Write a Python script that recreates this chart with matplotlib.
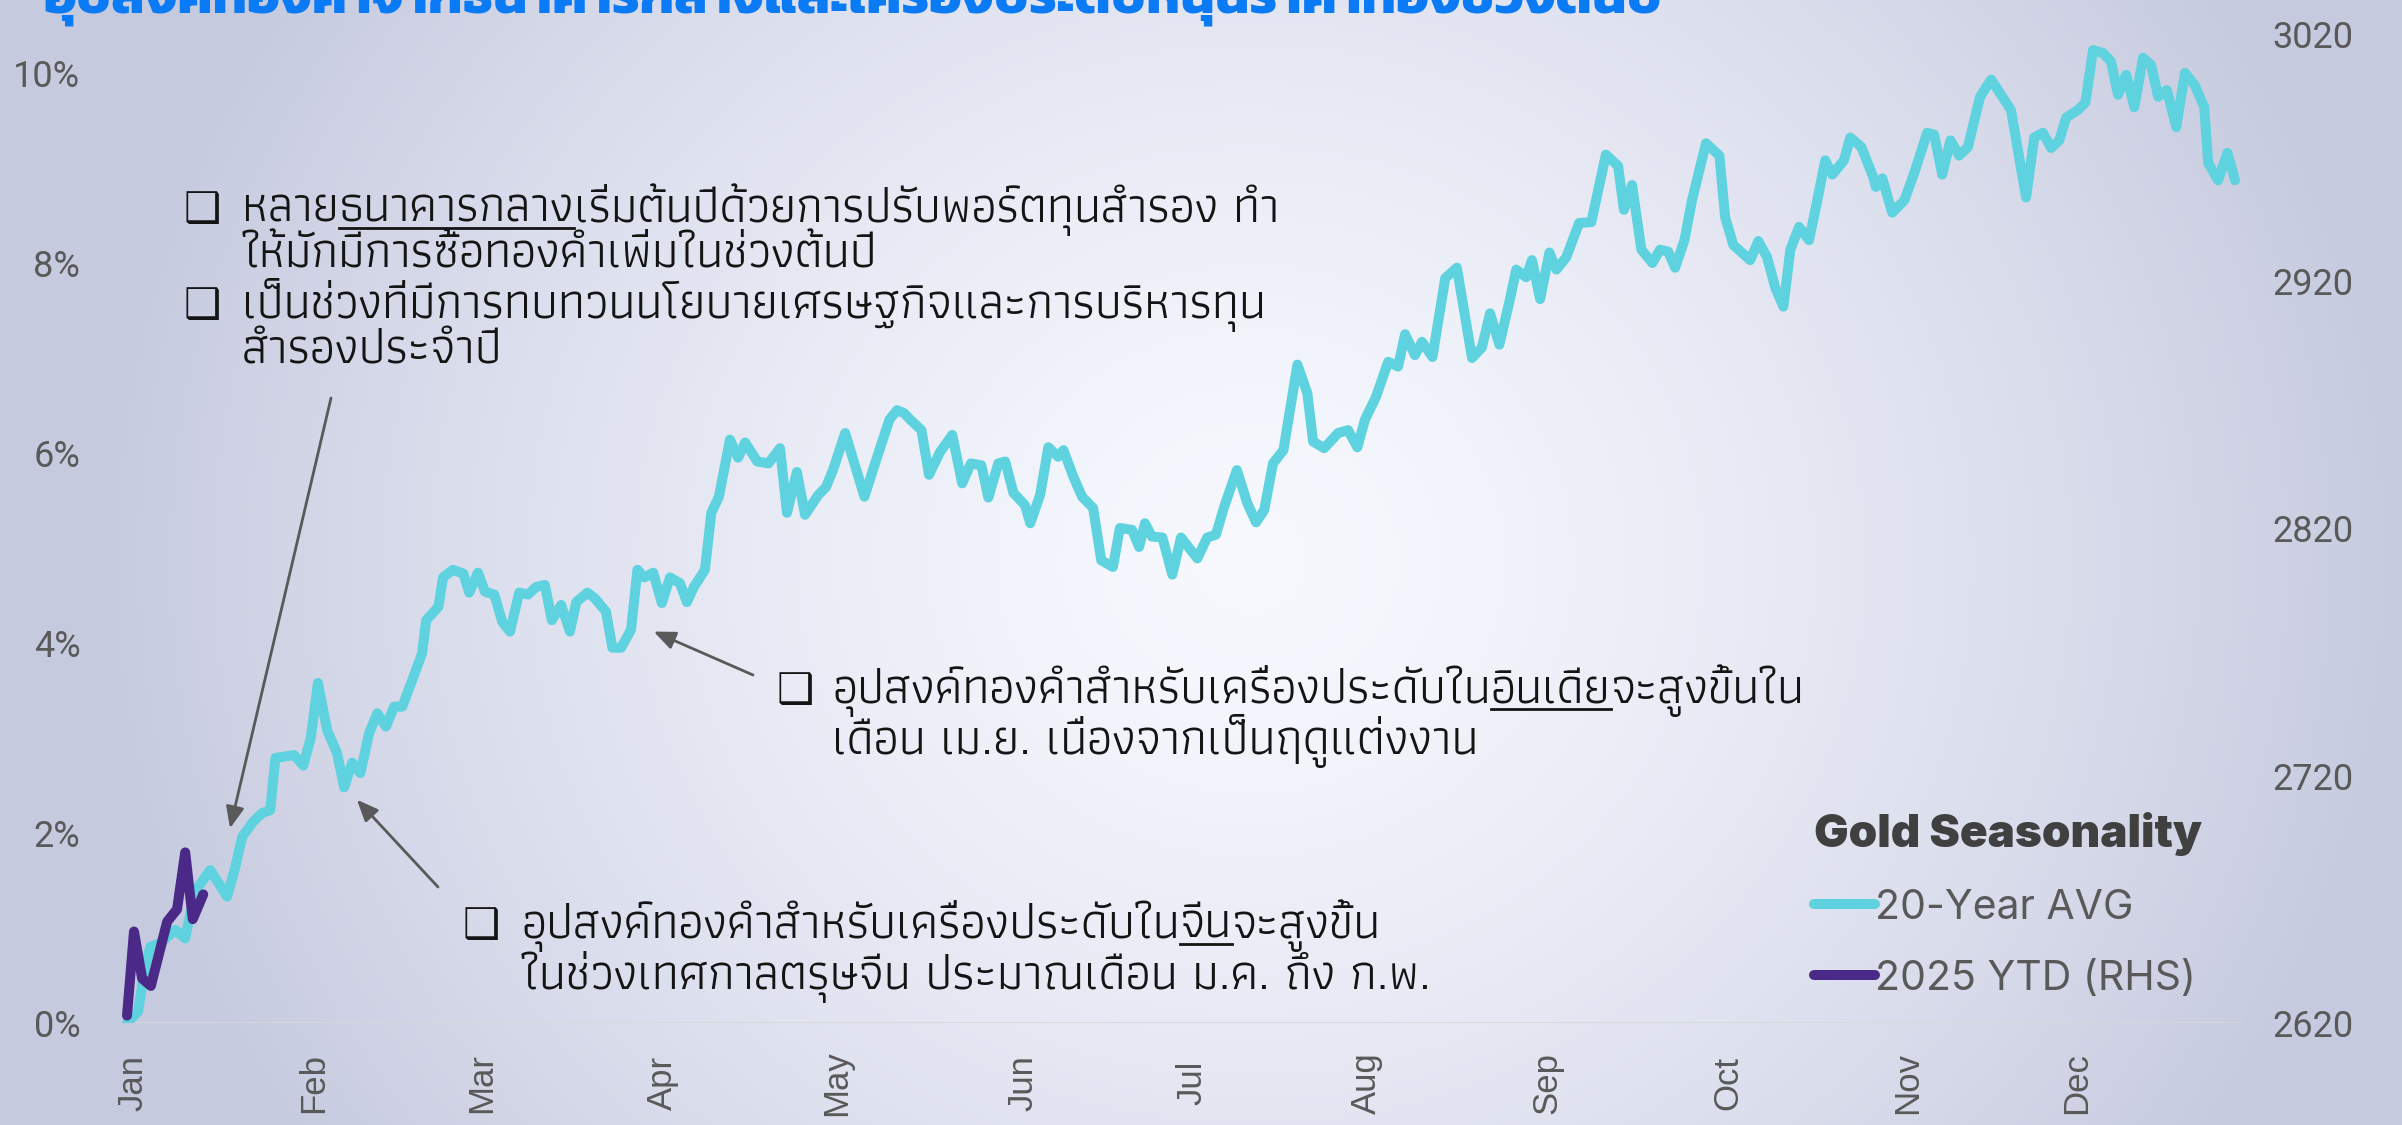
import numpy as np
import matplotlib
matplotlib.use("Agg")
import matplotlib.pyplot as plt
from matplotlib.lines import Line2D

# ---------------------------------------------------------------------
# Figure size in pixels and the fonts used
# ---------------------------------------------------------------------

W, H = 2402, 1125
thai_font = ["Athiti", "DejaVu Sans"]
title_font = ["Kanit", "Athiti", "DejaVu Sans"]
tick_font = ["Roboto", "DejaVu Sans"]
legend_font = ["Inter", "DejaVu Sans"]

cyan = "#5fd2df"
purple = "#4a2988"
grey = "#595959"

# ---------------------------------------------------------------------
# Data: 20-year average seasonal path (% gain since 1 Jan, left axis)
# and the 2025 year-to-date gold price (right axis), x = day of year
# ---------------------------------------------------------------------

avg_day = [0.0, 1.9, 3.1, 4.0, 5.7, 8.3, 10.0, 10.9, 12.2, 14.3,
           17.2, 18.6, 19.8, 21.7, 23.2, 24.6, 25.5, 28.7, 30.3, 31.6,
           32.8, 34.4, 36.1, 37.3, 38.7, 40.1, 41.6, 43.0, 44.5, 45.9,
           47.3, 49.2, 50.7, 51.4, 53.5, 54.3, 56.0, 57.8, 58.8, 60.3,
           61.5, 63.1, 64.5, 65.8, 67.4, 68.9, 70.3, 71.8, 73.0, 74.6,
           76.1, 77.2, 79.1, 80.4, 82.3, 83.4, 84.9, 86.6, 87.7, 88.9,
           90.4, 91.9, 93.3, 95.0, 96.2, 97.4, 99.3, 100.4, 101.7, 103.6,
           105.0, 106.2, 108.3, 110.2, 112.2, 113.4, 115.1, 116.5, 118.8, 120.1,
           121.3, 123.4, 126.7, 128.9, 131.0, 132.3, 133.5, 134.6, 136.5, 137.8,
           139.7, 141.8, 143.5, 145.0, 146.8, 148.0, 149.7, 150.9, 152.3, 154.3,
           155.2, 156.9, 158.3, 160.0, 160.9, 162.6, 164.1, 166.0, 167.4, 169.4,
           170.6, 172.7, 173.9, 174.9, 176.1, 177.9, 179.6, 181.1, 183.9, 185.6,
           187.1, 188.5, 190.7, 192.5, 194.0, 195.4, 196.9, 198.7, 201.1, 202.8,
           203.8, 205.7, 208.1, 209.8, 211.4, 212.7, 214.6, 216.7, 218.4, 219.6,
           221.3, 222.5, 224.3, 226.5, 228.5, 231.1, 232.8, 234.2, 235.8, 237.7,
           238.7, 240.4, 241.4, 242.8, 244.4, 245.6, 247.3, 249.5, 251.6, 254.1,
           256.2, 257.2, 258.6, 260.2, 262.1, 263.4, 264.8, 266.0, 267.6, 268.9,
           271.3, 273.6, 274.6, 276.0, 278.9, 280.3, 281.8, 283.2, 284.6, 285.8,
           287.3, 289.0, 290.1, 291.8, 293.0, 295.0, 296.1, 298.0, 300.0, 300.5,
           301.6, 303.3, 305.4, 307.1, 309.3, 310.5, 311.9, 313.3, 314.8, 316.3,
           318.4, 320.3, 322.0, 323.7, 326.3, 327.7, 329.2, 330.6, 332.0, 333.2,
           335.2, 336.5, 337.8, 339.5, 340.9, 342.1, 343.5, 344.9, 346.4, 347.8,
           349.0, 350.5, 352.1, 353.6, 355.3, 356.9, 357.6, 359.3, 360.9, 362.2]

avg_pct = [0.00, 0.12, 0.59, 0.80, 0.84, 0.98, 0.89, 1.16, 1.43, 1.61,
           1.33, 1.64, 1.96, 2.12, 2.21, 2.24, 2.79, 2.82, 2.71, 3.01,
           3.58, 3.08, 2.84, 2.48, 2.74, 2.63, 3.05, 3.26, 3.12, 3.33,
           3.33, 3.64, 3.89, 4.24, 4.38, 4.69, 4.77, 4.73, 4.53, 4.74,
           4.54, 4.51, 4.22, 4.12, 4.53, 4.51, 4.59, 4.61, 4.24, 4.40,
           4.12, 4.43, 4.53, 4.47, 4.33, 3.95, 3.95, 4.14, 4.77, 4.69,
           4.74, 4.42, 4.69, 4.63, 4.43, 4.59, 4.77, 5.37, 5.54, 6.14,
           5.95, 6.11, 5.91, 5.89, 6.05, 5.37, 5.80, 5.35, 5.56, 5.64,
           5.82, 6.21, 5.54, 5.96, 6.35, 6.45, 6.42, 6.35, 6.24, 5.77,
           6.01, 6.19, 5.68, 5.89, 5.87, 5.53, 5.89, 5.91, 5.58, 5.45,
           5.26, 5.56, 6.06, 5.96, 6.03, 5.75, 5.54, 5.42, 4.87, 4.80,
           5.21, 5.19, 5.01, 5.26, 5.12, 5.11, 4.72, 5.11, 4.89, 5.11,
           5.14, 5.43, 5.82, 5.47, 5.27, 5.40, 5.89, 6.03, 6.93, 6.63,
           6.12, 6.05, 6.21, 6.24, 6.06, 6.35, 6.59, 6.96, 6.91, 7.25,
           7.03, 7.17, 7.01, 7.84, 7.95, 7.00, 7.11, 7.47, 7.14, 7.64,
           7.93, 7.85, 8.03, 7.62, 8.11, 7.93, 8.06, 8.42, 8.43, 9.14,
           9.02, 8.56, 8.82, 8.14, 8.00, 8.14, 8.12, 7.95, 8.24, 8.66,
           9.26, 9.13, 8.48, 8.19, 8.03, 8.23, 8.06, 7.74, 7.54, 8.14,
           8.38, 8.24, 8.56, 9.08, 8.93, 9.08, 9.32, 9.22, 8.91, 8.80,
           8.89, 8.53, 8.66, 8.95, 9.37, 9.35, 8.93, 9.29, 9.13, 9.22,
           9.75, 9.93, 9.77, 9.61, 8.69, 9.32, 9.37, 9.21, 9.29, 9.53,
           9.61, 9.69, 10.24, 10.21, 10.12, 9.77, 9.98, 9.64, 10.16, 10.08,
           9.75, 9.82, 9.43, 10.00, 9.87, 9.64, 9.05, 8.87, 9.16, 8.87]

ytd_day = [0.0, 1.2, 2.6, 4.1, 6.9, 8.6, 10.0, 11.3, 13.1]
ytd_price = [2623, 2657, 2638, 2635, 2661, 2666, 2689, 2662, 2672]

month_pos = [1, 32, 61, 92, 122, 154, 183, 213, 244, 275, 306, 335]
month_labels = ["Jan", "Feb", "Mar", "Apr", "May", "Jun",
                "Jul", "Aug", "Sep", "Oct", "Nov", "Dec"]

pct_ticks = [0, 2, 4, 6, 8, 10]
price_ticks = [2620, 2720, 2820, 2920, 3020]

title = "อุปสงค์ทองคำจากธนาคารกลางและเครื่องประดับหนุนราคาทองช่วงต้นปี"

# annotation blocks: (bullet x, text x, [(baseline y, [(text, underlined), ...]), ...])
notes = [
    (184, 242, [
        (222, [("หลาย", False), ("ธนาคารกลาง", True),
               ("เริ่มต้นปีด้วยการปรับพอร์ตทุนสำรอง ทำ", False)]),
        (268, [("ให้มักมีการซื้อทองคำเพิ่มในช่วงต้นปี", False)]),
        (318, [("เป็นช่วงที่มีการทบทวนนโยบายเศรษฐกิจและการบริหารทุน", False)]),
        (364, [("สำรองประจำปี", False)]),
    ]),
    (777, 832, [
        (703, [("อุปสงค์ทองคำสำหรับเครื่องประดับใน", False), ("อินเดีย", True),
               ("จะสูงขึ้นใน", False)]),
        (754, [("เดือน เม.ย. เนื่องจากเป็นฤดูแต่งงาน", False)]),
    ]),
    (463, 521, [
        (938, [("อุปสงค์ทองคำสำหรับเครื่องประดับใน", False), ("จีน", True),
               ("จะสูงขึ้น", False)]),
        (989, [("ในช่วงเทศกาลตรุษจีน ประมาณเดือน ม.ค. ถึง ก.พ.", False)]),
    ]),
]
# lines that start with a bullet
bullet_rows = [(0, 0), (0, 2), (1, 0), (2, 0)]

# arrows: tip in data (day, %), tail in figure pixels from the top-left
arrows = [((17.7, 2.05), (331, 398)),
          ((90.5, 4.12), (753, 675)),
          ((39.5, 2.35), (438, 887))]


fig = plt.figure(figsize=(W / 100, H / 100), dpi=100)
renderer = fig.canvas.get_renderer()

# soft radial backdrop, lightest just right of centre
bg = fig.add_axes([0, 0, 1, 1], zorder=-10)
yy, xx = np.mgrid[0:H, 0:W]
r = np.hypot((xx - 1250) / 1150, (yy - 560) / 1050)
t = np.clip(r, 0, 1) ** 1.4
centre = np.array([0.968, 0.975, 0.998])
edge = np.array([0.780, 0.796, 0.876])
bg.imshow(centre + (edge - centre) * t[..., None], aspect="auto",
          extent=(0, 1, 0, 1), interpolation="bilinear")
bg.axis("off")

ax = fig.add_axes([122 / W, (H - 1023) / H, (2242 - 122) / W, (1023 - 34) / H])
ax.patch.set_alpha(0)
ax2 = ax.twinx()
ax2.patch.set_alpha(0)

avg_line, = ax.plot(avg_day, avg_pct, color=cyan, lw=7.2,
                    solid_joinstyle="round", solid_capstyle="round",
                    label="20-Year AVG")
ytd_line, = ax2.plot(ytd_day, ytd_price, color=purple, lw=7.2,
                     solid_joinstyle="round", solid_capstyle="round",
                     label="2025 YTD (RHS)")
ax.axhline(0, color="#d8d8d8", lw=2, zorder=0)

ax.set_xlim(-0.86, 363.4)
ax.set_ylim(0, 10.41)
ax2.set_ylim(2620, 3020)

for a in (ax, ax2):
    for s in a.spines.values():
        s.set_visible(False)

ax.set_yticks(pct_ticks)
ax.set_yticklabels([f"{v}%" for v in pct_ticks], family=tick_font,
                   fontsize=26, color=grey)
ax.tick_params(axis="y", length=0, pad=30)
ax2.set_yticks(price_ticks)
ax2.set_yticklabels([str(v) for v in price_ticks], family=tick_font,
                    fontsize=26, color=grey)
ax2.tick_params(axis="y", length=0, pad=21.6)

ax.set_xticks(month_pos)
ax.set_xticklabels(month_labels, rotation=90, va="center", ha="center",
                   family=["Liberation Sans", "DejaVu Sans"],
                   fontsize=25, color=grey)
ax.tick_params(axis="x", length=0, pad=43)

# legend with a bold title, handles touching the labels
leg = ax2.legend(handles=[avg_line, ytd_line], loc="upper left",
                 bbox_to_anchor=(1814 / W, 1 - 812 / H),
                 bbox_transform=fig.transFigure, frameon=False,
                 title="Gold Seasonality",
                 title_fontproperties={"family": legend_font,
                                       "weight": "black", "size": 33},
                 prop={"family": legend_font, "size": 29.5},
                 labelcolor=grey, handlelength=1.5, handletextpad=0.0,
                 labelspacing=0.8, borderpad=0, borderaxespad=0,
                 alignment="left")
leg.get_title().set_color("#404040")

# title, mostly above the top edge
fig.text(43 / W, 1 - 13 / H, title, family=title_font, weight="bold",
         fontsize=39.5, color="#0b7bf5", va="baseline", ha="left")


def write_line(x, y, parts, size):
    # draws the runs side by side and underlines the flagged ones
    for text, under in parts:
        tx = fig.text(x / W, 1 - y / H, text, family=thai_font,
                      fontsize=size, color="#141414",
                      va="baseline", ha="left")
        bb = tx.get_window_extent(renderer)
        if under:
            fig.add_artist(Line2D([bb.x0 / W, bb.x1 / W],
                                  [(H - y - 6) / H, (H - y - 6) / H],
                                  transform=fig.transFigure,
                                  color="#141414", lw=2))
        x += bb.width


note_size = 35
for i, (bx, tx0, rows) in enumerate(notes):
    for j, (y, parts) in enumerate(rows):
        if (i, j) in bullet_rows:
            fig.text(bx / W, 1 - y / H, "\u2751", family="DejaVu Sans",
                     fontsize=30, color="#141414", va="baseline", ha="left")
        write_line(tx0, y, parts, note_size)

for tip, tail in arrows:
    ax.annotate("", xy=tip, xycoords="data",
                xytext=(tail[0], H - tail[1]), textcoords="figure pixels",
                arrowprops=dict(arrowstyle="-|>,head_length=1.3,head_width=0.55",
                                color=grey, lw=2, shrinkA=0, shrinkB=0))

fig.savefig("out.png", dpi=100)
